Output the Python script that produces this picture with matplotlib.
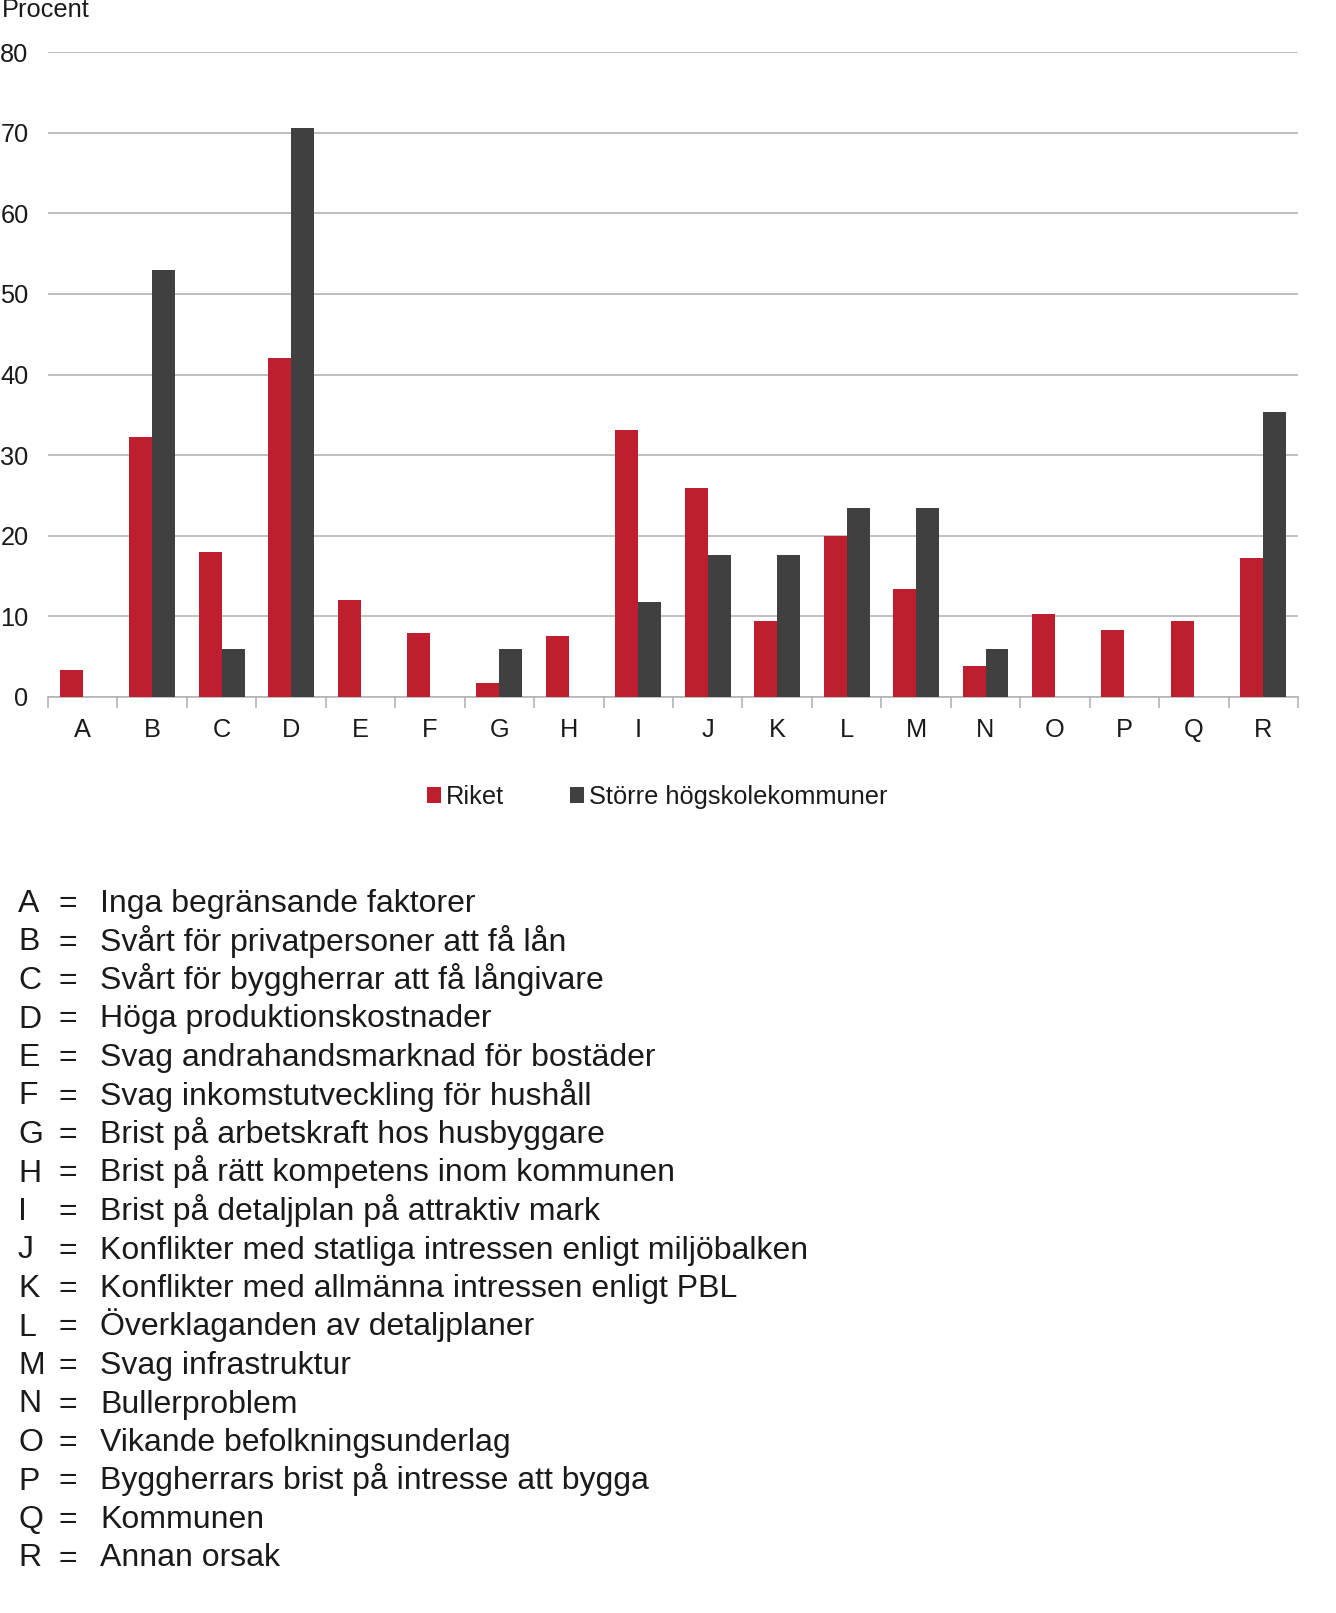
import matplotlib
matplotlib.use("Agg")
import matplotlib.pyplot as plt
import numpy as np

plt.rcParams['font.family'] = ['Liberation Sans', 'DejaVu Sans']

# %% data
categories = list("ABCDEFGHIJKLMNOPQR")
riket = [3.4, 32.2, 18.0, 42.1, 12.0, 7.9, 1.7, 7.6, 33.1, 25.9, 9.4, 20.0, 13.4, 3.8, 10.3, 8.3, 9.4, 17.3]
storre = [0, 52.9, 5.9, 70.6, 0, 0, 5.9, 0, 11.8, 17.6, 17.6, 23.5, 23.5, 5.9, 0, 0, 0, 35.3]
descriptions = [
    "Inga begränsande faktorer",
    "Svårt för privatpersoner att få lån",
    "Svårt för byggherrar att få långivare",
    "Höga produktionskostnader",
    "Svag andrahandsmarknad för bostäder",
    "Svag inkomstutveckling för hushåll",
    "Brist på arbetskraft hos husbyggare",
    "Brist på rätt kompetens inom kommunen",
    "Brist på detaljplan på attraktiv mark",
    "Konflikter med statliga intressen enligt miljöbalken",
    "Konflikter med allmänna intressen enligt PBL",
    "Överklaganden av detaljplaner",
    "Svag infrastruktur",
    "Bullerproblem",
    "Vikande befolkningsunderlag",
    "Byggherrars brist på intresse att bygga",
    "Kommunen",
    "Annan orsak",
]

RED = "#BE1E2D"
DARK = "#404040"
TXT = "#1a1a1a"
GRID = "#b4b4b4"
FS = 18.3

W, H = 1336, 1613
fig = plt.figure(figsize=(W / 100, H / 100), dpi=100)

def fx(px):
    return px / W

def fy(py):
    return 1 - py / H

# %% bar chart
ax = fig.add_axes([fx(48), fy(697), fx(1298) - fx(48), fy(52) - fy(697)])
x = np.arange(len(categories))
bw = 0.33
ax.bar(x - bw / 2, riket, bw, color=RED, linewidth=0, label="Riket", zorder=3)
ax.bar(x + bw / 2, storre, bw, color=DARK, linewidth=0, label="Större högskolekommuner", zorder=3)

ax.set_xlim(-0.5, len(categories) - 0.5)
ax.set_ylim(0, 80)
ax.set_yticks(range(0, 81, 10))
ax.yaxis.grid(True, color=GRID, linewidth=1.2, zorder=0)
ax.set_axisbelow(True)
for s in ["top", "right", "left"]:
    ax.spines[s].set_visible(False)
ax.spines["bottom"].set_color(GRID)
ax.spines["bottom"].set_linewidth(1.2)

ax.set_xticks(x)
ax.set_xticklabels(categories)
ax.set_xticks(np.arange(-0.5, len(categories)), minor=True)
ax.tick_params(axis="x", which="major", length=0, pad=15, labelsize=FS, labelcolor=TXT)
ax.tick_params(axis="x", which="minor", length=8, width=1.2, color=GRID, direction="out")
ax.tick_params(axis="y", length=0, pad=14, labelsize=FS, labelcolor=TXT)

fig.text(fx(2), fy(10), "Procent", ha="left", va="center", fontsize=FS, color=TXT)

fig.legend(loc="center", bbox_to_anchor=(fx(657), fy(797)), ncol=2, frameon=False,
           fontsize=FS, handlelength=0.55, handleheight=0.55, handletextpad=0.2,
           columnspacing=2.6, labelcolor=TXT)

# %% letter key
for i, (c, d) in enumerate(zip(categories, descriptions)):
    yb = fy(912 + i * 38.5)
    fig.text(fx(18), yb, c, ha="left", va="baseline", fontsize=23, color=TXT)
    fig.text(fx(59), yb, "=", ha="left", va="baseline", fontsize=23, color=TXT)
    fig.text(fx(100), yb, d, ha="left", va="baseline", fontsize=23, color=TXT)

fig.savefig("out.png", dpi=100)
